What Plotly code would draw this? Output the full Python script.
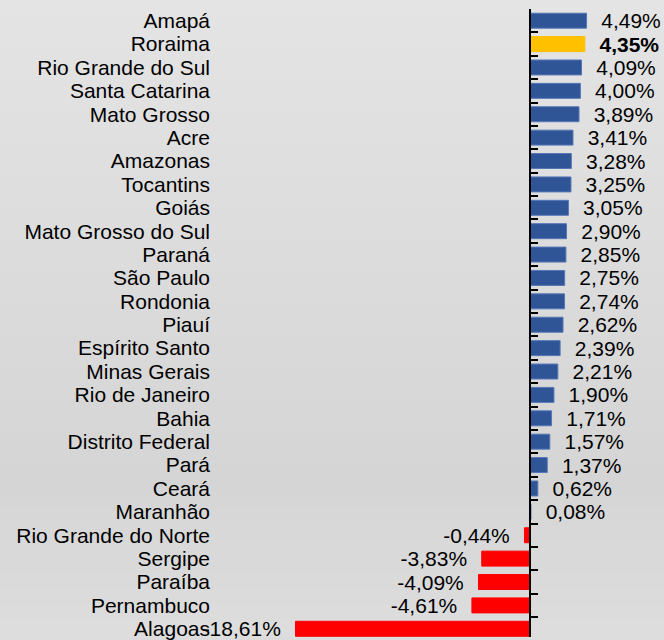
import plotly.graph_objects as go

# ---- data ----
states = ["Amapá", "Roraima", "Rio Grande do Sul", "Santa Catarina", "Mato Grosso",
          "Acre", "Amazonas", "Tocantins", "Goiás", "Mato Grosso do Sul", "Paraná",
          "São Paulo", "Rondonia", "Piauí", "Espírito Santo", "Minas Gerais",
          "Rio de Janeiro", "Bahia", "Distrito Federal", "Pará", "Ceará", "Maranhão",
          "Rio Grande do Norte", "Sergipe", "Paraíba", "Pernambuco", "Alagoas"]
values = [4.49, 4.35, 4.09, 4.00, 3.89, 3.41, 3.28, 3.25, 3.05, 2.90, 2.85, 2.75,
          2.74, 2.62, 2.39, 2.21, 1.90, 1.71, 1.57, 1.37, 0.62, 0.08,
          -0.44, -3.83, -4.09, -4.61, -18.61]
highlight = "Roraima"

# ---- styling ----
BLUE, YELLOW, RED = "#2F5597", "#FFC000", "#FF0000"
FONT = "Liberation Sans, Arial, sans-serif"
W, H = 664, 640
ML, MR, MT, MB = 215, 0, 9, 0
PX_PER_UNIT = 12.6
ZERO_PX = 530
xmin = -(ZERO_PX - ML) / PX_PER_UNIT
xmax = (W - MR - ZERO_PX) / PX_PER_UNIT
row_px = 23.5
ytop = -0.5
ybottom = ytop + (H - MT - MB) / row_px

NB = "\u00a0"
def fmt(v, name):
    s = f"{v:.2f}".replace(".", ",") + "%"
    if name == highlight:
        s = f"<b>{s}</b>"
    return (NB * 2 + s) if v >= 0 else (s + NB * 2)

colors, lines = [], []
for n, v in zip(states, values):
    if n == highlight:
        colors.append(YELLOW); lines.append(YELLOW)
    elif v < 0:
        colors.append(RED); lines.append(RED)
    else:
        colors.append(BLUE); lines.append("#5677B5")

fig = go.Figure()
fig.add_trace(go.Bar(
    x=values, y=states, orientation="h",
    marker=dict(color=colors, line=dict(color=lines, width=1)),
    text=[fmt(v, n) for n, v in zip(states, values)],
    textposition="outside", constraintext="none", cliponaxis=False,
    textfont=dict(family=FONT, size=21, color="black"),
    hoverinfo="skip", showlegend=False,
))
# invisible trace carrying the zero axis (line + boundary ticks)
fig.add_trace(go.Scatter(
    x=[0] * len(states), y=states, yaxis="y2", mode="markers",
    marker=dict(opacity=0), hoverinfo="skip", showlegend=False,
))

# background gradient bands
def bg(ypx):
    pts = [(0, 228), (480, 213), (640, 221)]
    for (a, ca), (b, cb) in zip(pts, pts[1:]):
        if a <= ypx <= b:
            c = ca + (cb - ca) * (ypx - a) / (b - a)
            return int(round(c))
    return 221

pw = W - ML - MR
ph = H - MT - MB
shapes = []
nb = 40
for i in range(nb):
    y0px = H * i / nb
    y1px = H * (i + 1) / nb + 1
    c = bg((y0px + y1px) / 2)
    shapes.append(dict(
        type="rect", xref="paper", yref="paper", layer="below",
        x0=-ML / pw - 0.01, x1=1 + MR / pw + 0.01,
        y0=1 + MT / ph - y1px / ph, y1=1 + MT / ph - y0px / ph,
        line=dict(width=0), fillcolor=f"rgb({c},{c},{c})",
    ))

zero_pos = (0 - xmin) / (xmax - xmin)

fig.update_layout(
    width=W, height=H,
    margin=dict(l=ML, r=MR, t=MT, b=MB, pad=0),
    paper_bgcolor="#dcdcdc", plot_bgcolor="rgba(0,0,0,0)",
    bargap=0.36,
    shapes=shapes,
    font=dict(family=FONT, size=21, color="black"),
    xaxis=dict(range=[xmin, xmax], visible=False, showgrid=False, zeroline=False),
    yaxis=dict(type="category", categoryorder="array", categoryarray=states,
               range=[ybottom, ytop], showgrid=False, showline=False, ticks="",
               tickmode="linear", tick0=0, dtick=1,
               tickfont=dict(family=FONT, size=21, color="black"),
               ticklabelstandoff=4),
    yaxis2=dict(type="category", categoryorder="array", categoryarray=states,
                range=[ybottom, ytop], overlaying="y", anchor="free",
                position=zero_pos, side="left", showgrid=False,
                tickmode="linear", tick0=0, dtick=1,
                showline=True, linecolor="black", linewidth=2,
                ticks="inside", tickson="boundaries", ticklen=7, tickwidth=2,
                tickcolor="black", showticklabels=False),
)

fig.write_html(
    "out.html",
    config={"displayModeBar": False},
    post_script="document.body.style.margin='0';document.body.style.overflow='hidden';",
)
